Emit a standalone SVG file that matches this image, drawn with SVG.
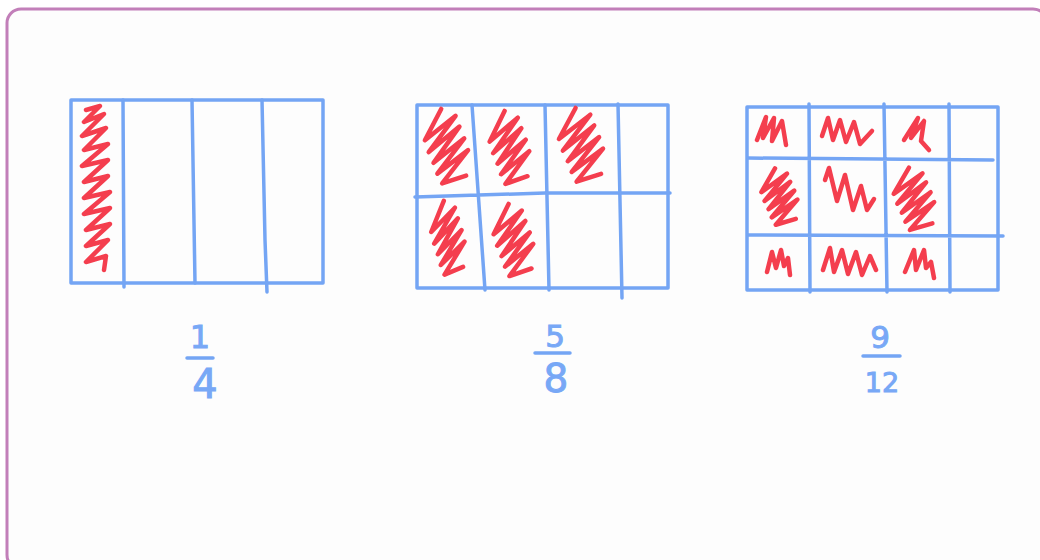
<svg xmlns="http://www.w3.org/2000/svg" xmlns:xlink="http://www.w3.org/1999/xlink" width="1040" height="560" viewBox="0 0 1040 560">
<style>
.grid{fill:none;stroke:#74a5f4;stroke-width:3.5;stroke-linecap:round;stroke-linejoin:round}
.scr{fill:none;stroke:#f43e4e;stroke-width:4.5;stroke-linecap:round;stroke-linejoin:round}
.num{font-family:"DejaVu Sans",sans-serif;fill:#78a8f6;stroke:#78a8f6;stroke-width:1;text-anchor:middle}
</style>
<defs>
<path id="band" class="scr" vector-effect="non-scaling-stroke" d="M20,2 L3,34 L35,9 L7,46 L39,20 L12,57 L44,32 L16,68 L48,44 L21,78 L46,70"/>
</defs>
<rect x="7" y="9" width="1040" height="560" rx="14" fill="#fdfdfd" stroke="#c27fb9" stroke-width="3"/>

<g id="fig-quarter">
<rect class="grid" x="71" y="100" width="252" height="183"/>
<path class="grid" d="M123,100 L124,287 M192,100 L195,283 M262,100 L265,240 L267,292"/>
<path class="scr" d="M86,110 L100,106 L84,122 L104,114 L82,136 L106,128 L84,150 L108,144 L82,166 L108,160 L84,182 L108,176 L84,198 L110,192 L84,214 L110,208 L86,230 L110,224 L86,246 L108,240 L86,262 L106,256 L104,270"/>
<text class="num" x="200" y="348" font-size="32">1</text>
<path class="grid" d="M187,358 L213,358"/>
<text class="num" x="205" y="398" font-size="40">4</text>
</g>

<g id="fig-five-eighths">
<rect class="grid" x="417" y="105" width="251" height="183"/>
<path class="grid" d="M472,105 L485,290 M545,105 L549,290 M618,104 L622,298 M415,197 L545,193 L670,193"/>
<use href="#band" transform="translate(422,107) scale(0.96,0.98)"/>
<use href="#band" transform="translate(487,109) scale(0.88,0.96)"/>
<use href="#band" transform="translate(556,106) scale(0.98,0.97)"/>
<use href="#band" transform="translate(429,199) scale(0.74,0.97)"/>
<use href="#band" transform="translate(491,202) scale(0.88,0.95)"/>
<text class="num" x="555" y="347" font-size="31">5</text>
<path class="grid" d="M535,353 L570,353"/>
<text class="num" x="556" y="392" font-size="39">8</text>
</g>

<g id="fig-nine-twelfths">
<rect class="grid" x="747" y="107" width="251" height="183"/>
<path class="grid" d="M809,104 L810,292 M884,104 L887,292 M949,104 L950,292 M748,158 L993,160 M748,235 L1003,236"/>
<path class="scr" d="M757,140 L766,117 L763,138 L774,118 L772,141 L782,121 L786,145"/>
<path class="scr" d="M822,136 L828,118 L833,140 L840,120 L846,142 L854,122 L860,144 L872,131"/>
<path class="scr" d="M904,140 L918,118 L911,138 L924,121 L921,141 L929,150"/>
<use href="#band" transform="translate(759,167) scale(0.8,0.74)"/>
<path class="scr" d="M825,180 L829,168 L837,201 L845,175 L853,210 L861,186 L867,210 L874,199"/>
<use href="#band" transform="translate(891,166) scale(0.9,0.82)"/>
<path class="scr" d="M767,272 L772,252 L776,268 L781,250 L784,266 L788,258 L790,275"/>
<path class="scr" d="M823,270 L830,248 L834,272 L842,250 L848,274 L856,252 L862,275 L870,256 L876,270"/>
<path class="scr" d="M905,272 L914,250 L916,270 L924,250 L926,268 L931,262 L934,278"/>
<text class="num" x="880" y="348" font-size="31">9</text>
<path class="grid" d="M863,356 L900,356"/>
<text class="num" x="882" y="392" font-size="27">12</text>
</g>
</svg>
